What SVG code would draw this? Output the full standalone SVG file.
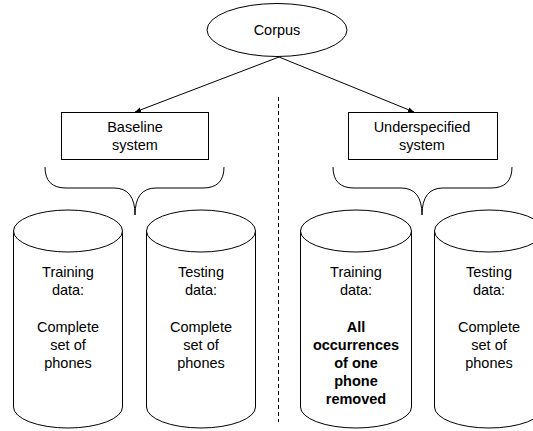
<svg xmlns="http://www.w3.org/2000/svg" width="533" height="431" viewBox="0 0 533 431">
<style>
.s{fill:#fff;stroke:#000;stroke-width:1}
.n{fill:none;stroke:#000;stroke-width:1}
.t{font-family:"Liberation Sans",Arial,sans-serif;font-size:14.5px;fill:#000;text-anchor:middle}
.b{font-weight:bold}
</style>
<defs>
<marker id="ah" viewBox="0 0 10 10" refX="10" refY="5" markerWidth="6" markerHeight="6" orient="auto" markerUnits="userSpaceOnUse">
<path d="M0,1 L10,5 L0,9 z" fill="#000"/>
</marker>
</defs>
<g id="connectors">
<line class="n" x1="279" y1="57" x2="135" y2="112" marker-end="url(#ah)"/>
<line class="n" x1="279" y1="57" x2="414" y2="112" marker-end="url(#ah)"/>
<line class="n" x1="278.5" y1="97" x2="278.5" y2="422" stroke-dasharray="4,3"/>
<path class="n" d="M45,167 Q45,188 66,188 L114,188 Q135,188 135,215 Q135,188 156,188 L203,188 Q224,188 224,167"/>
<path class="n" d="M333,167 Q333,188 354,188 L401,188 Q422,188 422,215 Q422,188 443,188 L491,188 Q512,188 512,167"/>
</g>
<g id="corpus">
<ellipse class="s" cx="277" cy="30" rx="70" ry="26.5"/>
<text class="t" x="277" y="35">Corpus</text>
</g>
<g id="baseline">
<rect class="s" x="61.5" y="112.5" width="147" height="47"/>
<text class="t" x="135" y="132">Baseline</text>
<text class="t" x="135" y="150">system</text>
</g>
<g id="underspecified">
<rect class="s" x="348.5" y="112.5" width="149" height="47"/>
<text class="t" x="422" y="132">Underspecified</text>
<text class="t" x="422" y="150">system</text>
</g>
<g id="cyl1">
<path class="s" d="M13.5,231 L13.5,407 A54.5,21 0 0 0 122.5,407 L122.5,231"/>
<ellipse class="s" cx="68" cy="231" rx="54.5" ry="21"/>
<text class="t" x="68" y="277">Training</text>
<text class="t" x="68" y="295">data:</text>
<text class="t" x="68" y="332">Complete</text>
<text class="t" x="68" y="350">set of</text>
<text class="t" x="68" y="368">phones</text>
</g>
<g id="cyl2">
<path class="s" d="M146.5,231 L146.5,407 A54.5,21 0 0 0 255.5,407 L255.5,231"/>
<ellipse class="s" cx="201" cy="231" rx="54.5" ry="21"/>
<text class="t" x="201" y="277">Testing</text>
<text class="t" x="201" y="295">data:</text>
<text class="t" x="201" y="332">Complete</text>
<text class="t" x="201" y="350">set of</text>
<text class="t" x="201" y="368">phones</text>
</g>
<g id="cyl3">
<path class="s" d="M300.5,231 L300.5,407 A55.5,21 0 0 0 411.5,407 L411.5,231"/>
<ellipse class="s" cx="356" cy="231" rx="55.5" ry="21"/>
<text class="t" x="356" y="277">Training</text>
<text class="t" x="356" y="295">data:</text>
<text class="t b" x="356" y="332">All</text>
<text class="t b" x="356" y="350">occurrences</text>
<text class="t b" x="356" y="368">of one</text>
<text class="t b" x="356" y="386">phone</text>
<text class="t b" x="356" y="404">removed</text>
</g>
<g id="cyl4">
<path class="s" d="M434.5,231 L434.5,407 A54.5,21 0 0 0 543.5,407 L543.5,231"/>
<ellipse class="s" cx="489" cy="231" rx="54.5" ry="21"/>
<text class="t" x="489" y="277">Testing</text>
<text class="t" x="489" y="295">data:</text>
<text class="t" x="489" y="332">Complete</text>
<text class="t" x="489" y="350">set of</text>
<text class="t" x="489" y="368">phones</text>
</g>
</svg>
